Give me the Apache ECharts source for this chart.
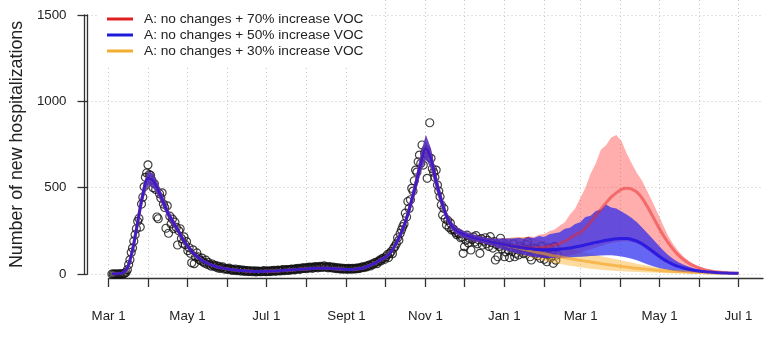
<!DOCTYPE html>
<html>
<head>
<meta charset="utf-8">
<script src="https://cdn.jsdelivr.net/npm/echarts@6/dist/echarts.min.js"></script>
<style>
  html, body { margin: 0; padding: 0; background: #fff; }
  #chart { width: 767px; height: 337px; }
</style>
</head>
<body>
<div id="chart"></div>
<script>
// Daily new hospitalizations, from 1 March 2020
const observedStart = '2020-03-01';
const observed = [
  0, 0, 0, 0, 0, 0, 0, 1, 0, 2,
  4, 10, 25, 55, 82, 125, 150, 190, 228, 262,
  305, 322, 272, 405, 445, 505, 560, 585, 632, 575,
  572, 545, 500, 522, 490, 330, 320, 465, 440, 470,
  405, 385, 265, 395, 236, 335, 290, 318, 262, 300,
  270, 168, 250, 262, 205, 178, 215, 170, 188, 135,
  152, 120, 65, 140, 60, 98, 122, 100, 82, 78,
  92, 70, 63, 80, 56, 66, 52, 46, 58, 50,
  42, 48, 36, 44, 32, 38, 42, 29, 33, 27,
  30, 34, 24, 28, 21, 25, 29, 19, 22, 25,
  17, 21, 23, 15, 19, 20, 14, 17, 18, 13,
  16, 18, 12, 15, 17, 14, 13, 16, 19, 14,
  15, 18, 16, 14, 19, 17, 21, 16, 18, 22,
  20, 18, 23, 25, 19, 22, 26, 24, 21, 27,
  29, 25, 24, 31, 28, 33, 27, 30, 35, 32,
  36, 31, 38, 34, 40, 37, 33, 41, 38, 43,
  36, 40, 44, 38, 42, 47, 39, 41, 36, 43,
  38, 35, 40, 33, 37, 31, 35, 30, 34, 28,
  33, 29, 31, 27, 32, 30, 28, 33, 30, 29,
  34, 31, 36, 33, 38, 42, 37, 44, 41, 48,
  52, 47, 58, 55, 63, 68, 60, 72, 80, 76,
  88, 92, 85, 100, 112, 95, 120, 130, 118, 150,
  160, 175, 210, 195, 235, 255, 274, 290, 352, 330,
  420, 380, 430, 496, 480, 540, 602, 590, 650, 689,
  640, 747, 631, 700, 720, 554, 680, 876, 670, 610,
  590, 560, 602, 515, 480, 448, 400, 342, 380, 320,
  284, 310, 270, 295, 255, 262, 255, 240, 228, 238,
  232, 210, 215, 120, 158, 195, 225, 180, 205, 139,
  200, 215, 185, 222, 175, 198, 120, 205, 168, 190,
  210, 175, 195, 160, 216, 182, 150, 188, 81, 170,
  100, 160, 207, 145, 180, 100, 128, 165, 140, 95,
  155, 130, 175, 100, 120, 142, 110, 160, 135, 152,
  118, 125, 170, 187, 140, 100, 81, 132, 150, 115,
  145, 105, 128, 91, 160, 120, 85, 130, 71, 112,
  150, 95, 125, 62, 158, 80, 110
];

// Model fit shared by all scenarios, every 4 days from 1 March 2020 (day 0 .. day 296)
const fitMean = [
  0, 1, 6, 35, 140, 300, 460, 555, 540, 485,
  415, 345, 294, 245, 190, 150, 115, 90, 70, 56,
  45, 37, 31, 26, 23, 20, 18, 16, 15, 15,
  16, 17, 18, 20, 22, 24, 26, 28, 30, 32,
  33, 34, 33, 31, 29, 27, 26, 27, 30, 36,
  48, 62, 78, 95, 118, 165, 225, 300, 400, 515,
  640, 730, 665, 535, 425, 335, 280, 250, 235, 222,
  212, 204, 197, 190, 184
];
const fitLower = [
  0, 0, 3, 28, 122, 272, 425, 515, 500, 450,
  385, 320, 272, 226, 175, 138, 105, 82, 64, 50,
  40, 33, 28, 23, 20, 17, 15, 14, 13, 13,
  14, 15, 15, 17, 19, 21, 23, 24, 26, 28,
  29, 30, 29, 27, 25, 23, 22, 23, 26, 31,
  42, 55, 69, 85, 106, 150, 205, 275, 368, 472,
  588, 668, 608, 490, 390, 308, 257, 229, 215, 202,
  193, 185, 178, 171, 163
];
const fitUpper = [
  2, 4, 9, 42, 156, 328, 495, 595, 580, 520,
  445, 370, 316, 264, 205, 162, 125, 98, 76, 62,
  50, 41, 35, 29, 26, 23, 21, 19, 18, 18,
  19, 20, 21, 23, 25, 27, 29, 32, 34, 36,
  37, 38, 37, 35, 33, 31, 30, 31, 34, 41,
  54, 69, 87, 105, 130, 180, 245, 325, 432, 558,
  695, 805, 725, 580, 460, 362, 303, 271, 255, 242,
  231, 223, 216, 209, 205
];

// Scenario projections, every 4 days from day 300 to day 484, then 1 July 2021
const red70Mean = [
  178, 172, 166, 161, 157, 154, 152, 151, 152, 155,
  160, 167, 177, 190, 207, 226, 240, 268, 300, 338,
  375, 412, 445, 470, 490, 496, 492, 474, 440, 392,
  338, 282, 230, 184, 144, 111, 85, 64, 48, 36,
  27, 20, 15, 11, 8, 6, 5, 4
];
const red70Lower = [
  150, 142, 134, 126, 118, 112, 106, 102, 98, 96,
  95, 96, 98, 102, 108, 115, 124, 133, 142, 152,
  162, 172, 180, 186, 190, 190, 186, 176, 160, 140,
  118, 97, 78, 62, 48, 37, 28, 21, 16, 12,
  9, 7, 6, 5, 4, 3, 3, 3
];
const red70Upper = [
  206, 206, 208, 210, 212, 210, 218, 214, 228, 232,
  248, 258, 280, 300, 345, 380, 440, 500, 580, 640,
  720, 745, 790, 805, 770, 700, 640, 585, 540, 480,
  420, 355, 290, 225, 175, 135, 103, 78, 58, 44,
  33, 25, 19, 14, 11, 8, 6, 5
];
const blue50Mean = [
  178, 172, 166, 160, 155, 151, 147, 144, 142, 141,
  141, 142, 144, 147, 151, 156, 162, 169, 176, 183,
  189, 195, 200, 204, 206, 205, 200, 190, 175, 155,
  133, 110, 89, 71, 56, 44, 35, 28, 22, 17,
  14, 11, 9, 7, 6, 5, 4, 4
];
const blue50Lower = [
  150, 142, 133, 125, 117, 110, 104, 98, 95, 93,
  92, 92, 93, 94, 96, 98, 100, 102, 104, 106,
  107, 108, 108, 106, 102, 96, 88, 79, 68, 57,
  47, 38, 30, 24, 19, 15, 12, 10, 8, 7,
  6, 5, 4, 4, 3, 3, 3, 3
];
const blue50Upper = [
  206, 205, 206, 205, 210, 204, 212, 208, 220, 214,
  230, 236, 242, 262, 268, 290, 300, 330, 338, 365,
  372, 402, 385, 380, 362, 345, 325, 300, 270, 238,
  205, 172, 140, 112, 88, 70, 55, 43, 34, 26,
  20, 16, 13, 10, 8, 7, 6, 5
];
const orange30Mean = [
  178, 171, 164, 157, 150, 143, 136, 129, 123, 117,
  111, 105, 100, 94, 89, 84, 79, 74, 70, 65,
  60, 56, 52, 48, 44, 40, 36, 33, 30, 27,
  24, 21, 19, 17, 15, 13, 12, 10, 9, 8,
  7, 6, 5, 5, 4, 4, 3, 3
];
const orange30Lower = [
  150, 142, 133, 124, 115, 106, 98, 90, 83, 76,
  70, 64, 58, 53, 48, 43, 39, 35, 31, 28,
  25, 22, 20, 18, 16, 14, 13, 11, 10, 9,
  8, 7, 6, 5, 5, 4, 4, 3, 3, 3,
  2, 2, 2, 2, 2, 2, 2, 2
];
const orange30Upper = [
  205, 205, 208, 212, 215, 214, 210, 205, 198, 190,
  182, 172, 163, 155, 148, 140, 132, 125, 118, 110,
  103, 97, 91, 85, 78, 72, 66, 60, 54, 49,
  44, 39, 34, 30, 26, 23, 20, 17, 15, 13,
  11, 9, 8, 7, 6, 5, 5, 4
];

// Axis labels
const xTickDates = ['2020-03-01', '2020-05-01', '2020-07-01', '2020-09-01', '2020-11-01',
                    '2021-01-01', '2021-03-01', '2021-05-01', '2021-07-01'];
const xTickLabels = ['Mar 1', 'May 1', 'Jul 1', 'Sept 1', 'Nov 1', 'Jan 1', 'Mar 1', 'May 1', 'Jul 1'];
const yMin = 0, yMax = 1500, yStep = 500;
const yTitle = 'Number of new hospitalizations';
const legendNames = [
  'A: no changes + 70% increase VOC',
  'A: no changes + 50% increase VOC',
  'A: no changes + 30% increase VOC'
];

// ---- time helpers ----
const DAY_MS = 86400000;
const t0 = Date.parse(observedStart + 'T00:00:00Z');
const isoDay = d => new Date(t0 + d * DAY_MS).toISOString().slice(0, 10);
const END_DAY = Math.round((Date.parse('2021-07-01T00:00:00Z') - t0) / DAY_MS); // 487
const PAD_DAYS = 19;
// the plotting x value counts days from the left edge of the plot region
const xOf = d => d + PAD_DAYS;

// sampling days of the model curves
const modelDays = [];
for (let d = 0; d <= 484; d += 4) modelDays.push(d);
modelDays.push(END_DAY);

const scen = (mean, lo, hi) => ({
  mean: fitMean.concat(mean), lo: fitLower.concat(lo), hi: fitUpper.concat(hi)
});
const s70 = scen(red70Mean, red70Lower, red70Upper);
const s50 = scen(blue50Mean, blue50Lower, blue50Upper);
const s30 = scen(orange30Mean, orange30Lower, orange30Upper);

// categories for the date axis (one per day)
const axisDays = [];
for (let d = 0; d <= END_DAY + PAD_DAYS; d++) axisDays.push(isoDay(d));
const tickLabelOf = {};
xTickDates.forEach((d, i) => { tickLabelOf[d] = xTickLabels[i]; });
const isMonthStart = (idx, val) => val.slice(8) === '01';

// ---- layout ----
const W = 767;
const plotLeft = 84, plotRight = 763;
const pxPerDay = (plotRight - plotLeft) / (END_DAY + 2 * PAD_DAYS);
const FONT = '"Liberation Sans", Arial, sans-serif';
const AXIS_COLOR = '#333';
const gridLine = () => ({ type: [1, 3], color: '#c4c4c4', width: 1 });

function band(days, lo, hi, fill, z) {
  return {
    type: 'custom', xAxisIndex: 1, yAxisIndex: 1, silent: true, z,
    data: [[xOf(days[0]), lo[0]]],
    renderItem: (params, api) => {
      const pts = [];
      for (let i = 0; i < days.length; i++) pts.push(api.coord([xOf(days[i]), hi[i]]));
      for (let i = days.length - 1; i >= 0; i--) pts.push(api.coord([xOf(days[i]), lo[i]]));
      return { type: 'polygon', shape: { points: pts }, style: { fill } };
    }
  };
}
function line(name, days, vals, color, z) {
  return {
    name, type: 'line', xAxisIndex: 1, yAxisIndex: 1, z,
    data: days.map((d, i) => [xOf(d), vals[i]]),
    showSymbol: false, symbol: 'none', smooth: 0.3,
    lineStyle: { color, width: 3 }, itemStyle: { color },
    emphasis: { disabled: true }
  };
}

const chart = echarts.init(document.getElementById('chart'), null, { renderer: 'canvas' });
chart.setOption({
  animation: false,
  backgroundColor: '#fff',
  textStyle: { fontFamily: FONT },
  grid: [
    // date axis frame (starts at the first tick)
    { left: plotLeft + PAD_DAYS * pxPerDay, right: W - plotRight, top: 0, bottom: 337 - 278 },
    // data area, 0..1500
    { left: plotLeft, right: W - plotRight, top: 15, bottom: 63 },
    // left axis spine
    { left: plotLeft, right: W - plotRight, top: 15, bottom: 63 }
  ],
  xAxis: [
    {
      gridIndex: 0, type: 'category', data: axisDays, boundaryGap: false, offset: 7,
      axisLine: { lineStyle: { color: AXIS_COLOR, width: 1.3 } },
      axisTick: { interval: isMonthStart, length: 9, lineStyle: { color: AXIS_COLOR, width: 1.3 } },
      axisLabel: {
        interval: (idx, val) => val in tickLabelOf,
        formatter: val => tickLabelOf[val] || '',
        color: '#222', fontSize: 13.3, margin: 25, fontFamily: FONT
      },
      splitLine: { show: true, interval: isMonthStart, lineStyle: gridLine() }
    },
    { gridIndex: 1, type: 'value', min: 0, max: END_DAY + 2 * PAD_DAYS, show: false },
    { gridIndex: 2, type: 'value', min: 0, max: 10, show: false }
  ],
  yAxis: [
    { gridIndex: 0, type: 'value', min: 0, max: 1, show: false },
    {
      gridIndex: 1, type: 'value', min: yMin, max: yMax, interval: yStep,
      name: yTitle, nameLocation: 'middle', nameRotate: 90, nameGap: 57,
      nameTextStyle: { color: '#222', fontSize: 17.8, fontFamily: FONT },
      axisLine: { show: true, lineStyle: { color: AXIS_COLOR, width: 1.3 } },
      axisTick: { show: true, length: 10, lineStyle: { color: AXIS_COLOR, width: 1.3 } },
      axisLabel: { color: '#222', fontSize: 13.3, margin: 21, fontFamily: FONT, formatter: v => String(v) },
      splitLine: { show: true, lineStyle: gridLine() }
    },
    {
      gridIndex: 2, type: 'value', min: yMin, max: yMax, interval: yStep,
      axisLine: { show: true, lineStyle: { color: AXIS_COLOR, width: 1.3 } },
      axisTick: { show: false }, axisLabel: { show: false }, splitLine: { show: false }
    }
  ],
  legend: {
    left: 98, top: 0, orient: 'vertical',
    backgroundColor: '#fff',
    padding: [11, 5, 6, 9],
    itemWidth: 26, itemHeight: 3, itemGap: 0, icon: 'rect',
    textStyle: { color: '#222', fontSize: 13.7, lineHeight: 16, fontFamily: FONT, padding: [0, 0, 0, 6] },
    selectedMode: false,
    data: [
      { name: legendNames[0], itemStyle: { color: '#e02020' } },
      { name: legendNames[1], itemStyle: { color: '#1c1cd8' } },
      { name: legendNames[2], itemStyle: { color: '#f2ae30' } }
    ]
  },
  series: [
    {
      type: 'scatter', xAxisIndex: 1, yAxisIndex: 1, z: 1, silent: true,
      data: observed.map((v, i) => [xOf(i), v]),
      symbol: 'circle', symbolSize: 8,
      itemStyle: { color: 'rgba(0,0,0,0)', borderColor: '#111', borderWidth: 1.2 }
    },
    band(modelDays, s30.lo, s30.hi, 'rgba(250,175,40,0.45)', 2),
    line(legendNames[2], modelDays, s30.mean, 'rgba(245,160,30,0.6)', 2),
    band(modelDays, s70.lo, s70.hi, 'rgba(255,60,60,0.42)', 2),
    line(legendNames[0], modelDays, s70.mean, 'rgba(230,40,40,0.5)', 2),
    band(modelDays, s50.lo, s50.hi, 'rgba(30,30,240,0.68)', 2),
    line(legendNames[1], modelDays, s50.mean, 'rgba(35,20,225,0.85)', 2),
    // empty series that keeps the spine grid's axes alive
    { type: 'line', xAxisIndex: 2, yAxisIndex: 2, data: [], silent: true }
  ]
});
</script>
</body>
</html>
